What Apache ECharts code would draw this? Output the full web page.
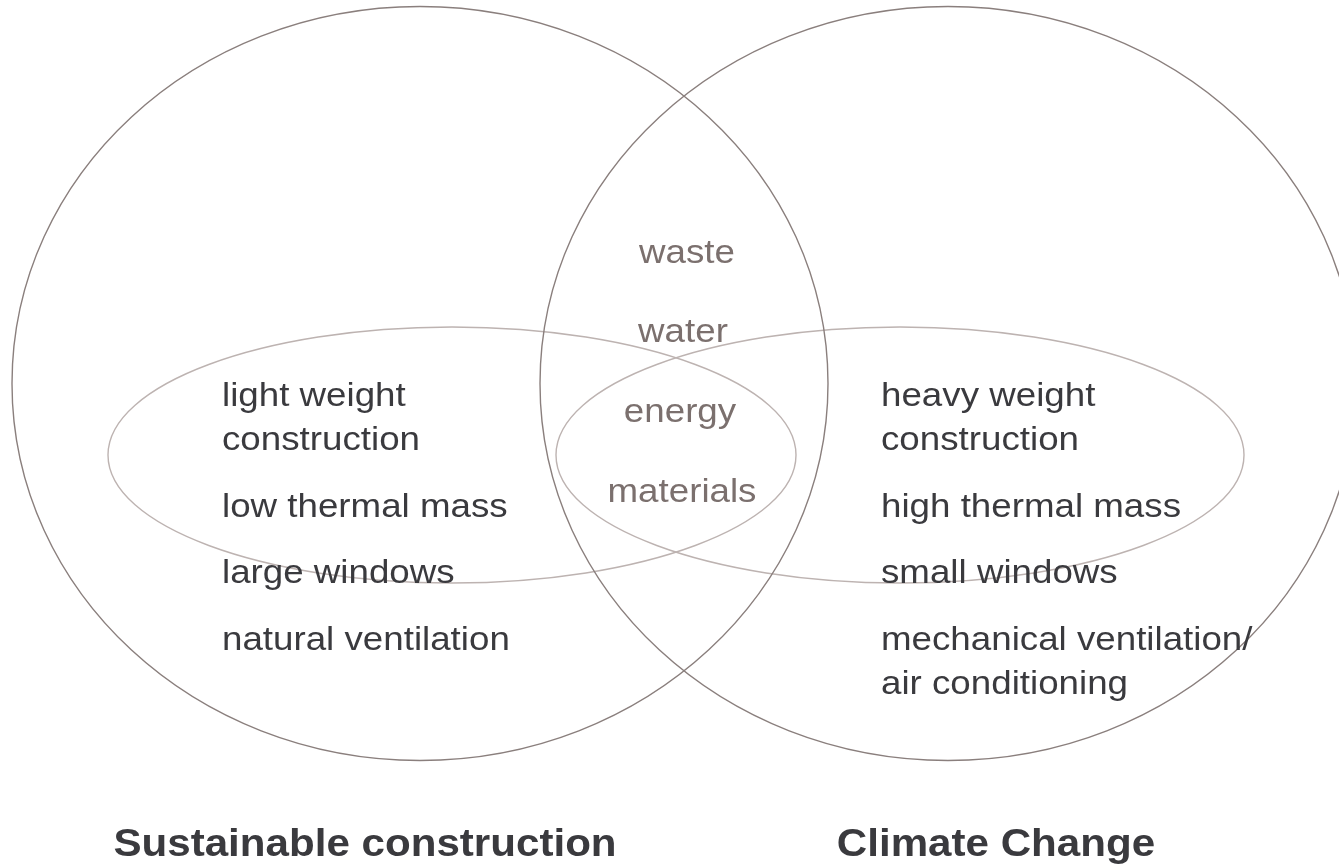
<!DOCTYPE html>
<html>
<head>
<meta charset="utf-8">
<script src="https://cdn.jsdelivr.net/npm/echarts@6/dist/echarts.min.js"></script>
<style>
  html, body { margin: 0; padding: 0; background: #fff; }
  #main { width: 1339px; height: 868px; }
</style>
</head>
<body>
<div id="main"></div>
<script>
// sets and their members
var setNames = ['Sustainable construction', 'Climate Change'];
var leftItems = [['light weight', 'construction'], ['low thermal mass'], ['large windows'], ['natural ventilation']];
var rightItems = [['heavy weight', 'construction'], ['high thermal mass'], ['small windows'], ['mechanical ventilation/', 'air conditioning']];
var sharedItems = ['waste', 'water', 'energy', 'materials'];

// layout (axis units = pixels of the original picture)
var circles = [[420, 383.5, 408, 377], [948, 383.5, 408, 377]];
var ovals = [[452, 455, 344, 128], [900, 455, 344, 128]];
var itemRows = [409, 520, 586, 653];
var sharedPos = [[687, 266], [683, 345], [680, 425], [682, 505]];
var titlePos = [[365, 859], [996, 859]];

var dark = '#3a3a3e';
var soft = '#7b706e';
var stretch = 1.08;

// flatten text into rows of [x, baseline, text, kind]
var texts = [];
leftItems.forEach(function (lines, i) {
    lines.forEach(function (t, j) { texts.push([222, itemRows[i] + j * 44, t, 'item']); });
});
rightItems.forEach(function (lines, i) {
    lines.forEach(function (t, j) { texts.push([881, itemRows[i] + j * 43.5, t, 'item']); });
});
sharedItems.forEach(function (t, i) { texts.push([sharedPos[i][0], sharedPos[i][1], t, 'shared']); });
setNames.forEach(function (t, i) { texts.push([titlePos[i][0], titlePos[i][1], t, 'title']); });

function ellipseItem(color) {
    return function (params, api) {
        var c = api.coord([api.value(0), api.value(1)]);
        var s = api.size([api.value(2), api.value(3)]);
        return {
            type: 'ellipse',
            shape: { cx: c[0], cy: c[1], rx: Math.abs(s[0]), ry: Math.abs(s[1]) },
            style: { fill: 'none', stroke: color, lineWidth: 1.4 }
        };
    };
}

var myChart = echarts.init(document.getElementById('main'));
var option = {
    animation: false,
    grid: { left: 0, right: 0, top: 0, bottom: 0 },
    xAxis: { type: 'value', min: 0, max: 1339, show: false },
    yAxis: { type: 'value', min: 0, max: 868, inverse: true, show: false },
    series: [
        {
            type: 'custom',
            silent: true,
            clip: false,
            renderItem: ellipseItem('#bdb3b1'),
            data: ovals
        },
        {
            type: 'custom',
            silent: true,
            clip: false,
            renderItem: ellipseItem('#8a7f7d'),
            data: circles
        },
        {
            type: 'custom',
            silent: true,
            clip: false,
            renderItem: function (params, api) {
                var row = texts[params.dataIndex];
                var p = api.coord([row[0], row[1]]);
                var kind = row[3];
                var size = kind === 'title' ? 39 : 34;
                return {
                    type: 'text',
                    x: p[0],
                    y: p[1] - size * 0.36,
                    scaleX: stretch,
                    style: {
                        text: row[2],
                        x: 0,
                        y: 0,
                        fontFamily: 'Liberation Sans, Arial, sans-serif',
                        fontSize: size,
                        fontWeight: kind === 'title' ? 'bold' : 'normal',
                        fill: kind === 'shared' ? soft : dark,
                        align: kind === 'item' ? 'left' : 'center',
                        verticalAlign: 'middle'
                    }
                };
            },
            data: texts.map(function (r) { return [r[0], r[1]]; })
        }
    ]
};
myChart.setOption(option);
</script>
</body>
</html>
